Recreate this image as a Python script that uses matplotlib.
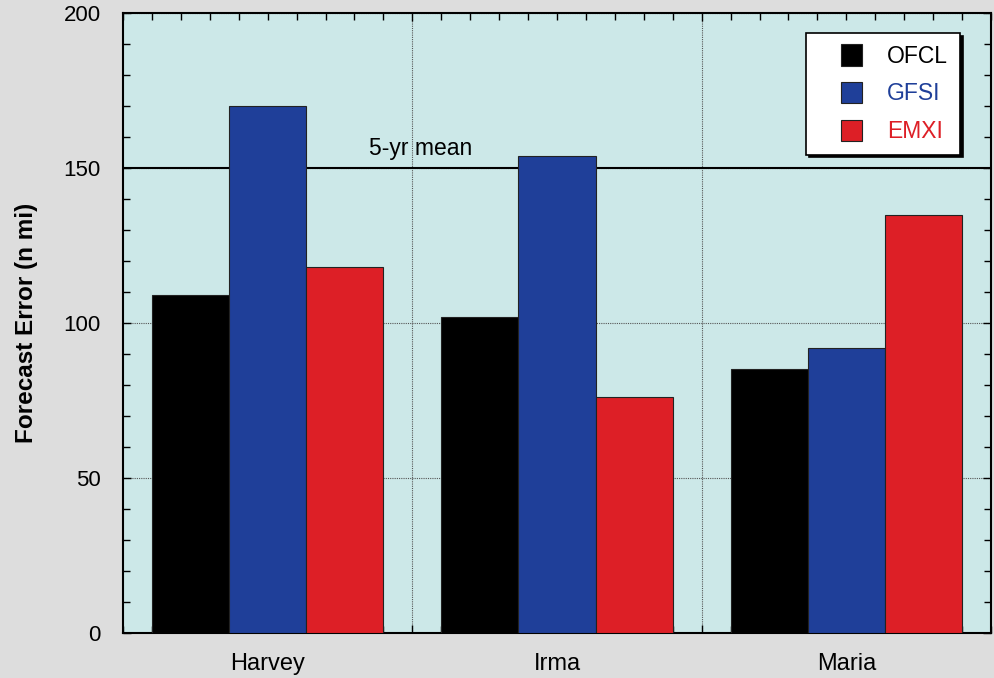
import matplotlib
matplotlib.use("Agg")
import matplotlib.pyplot as plt
import matplotlib.patches as mpatches
from matplotlib.legend_handler import HandlerPatch
import numpy as np
from matplotlib.ticker import MultipleLocator, FixedLocator

plt.rcParams['font.family'] = ['Liberation Sans', 'DejaVu Sans']

storms = ["Harvey", "Irma", "Maria"]
models = ["OFCL", "GFSI", "EMXI"]
ofcl = [109, 102, 85]
gfsi = [170, 154, 92]
emxi = [118, 76, 135]
five_yr_mean = 150
colors = ["#000000", "#1f3f99", "#dd1f26"]

fig = plt.figure(figsize=(9.94, 6.78), dpi=100, facecolor="#dddddd")
ax = fig.add_axes([0.1237, 0.0664, 0.997 - 0.1237, 0.9808 - 0.0664])
ax.set_facecolor("#cce8e8")

x = np.arange(len(storms))
width = 0.8 / 3
for i, (vals, c, name) in enumerate(zip([ofcl, gfsi, emxi], colors, models)):
    ax.bar(x + (i - 1) * width, vals, width=width, color=c, edgecolor="#222222",
           linewidth=0.8, label=name, zorder=3)

ax.set_xlim(-0.5, 2.5)
ax.set_ylim(0, 200)

# grid lines: dotted at category boundaries and every 50
ax.xaxis.set_major_locator(FixedLocator([0.5, 1.5]))
ax.xaxis.set_minor_locator(MultipleLocator(0.1))
ax.yaxis.set_major_locator(MultipleLocator(50))
ax.yaxis.set_minor_locator(MultipleLocator(10))
ax.grid(True, which="major", color="#555555", linestyle=(0, (1, 1)), linewidth=0.8, zorder=1)
ax.set_xticklabels([])
ax.tick_params(axis="both", which="both", direction="in", top=True, right=True,
               color="black")
ax.tick_params(axis="both", which="major", length=6, width=1)
ax.tick_params(axis="both", which="minor", length=5, width=1)
ax.tick_params(axis="y", which="major", labelsize=16, pad=16)
for s in ax.spines.values():
    s.set_linewidth(1.5)

for xi, name in zip(x, storms):
    ax.text(xi, -0.033, name, transform=ax.get_xaxis_transform(), ha="center",
            va="top", fontsize=17)

ax.set_ylabel("Forecast Error (n mi)", fontsize=17.5, fontweight="bold", labelpad=18)

# 5-year mean reference line
ax.axhline(five_yr_mean, color="black", linewidth=1.5, zorder=2)
ax.text(0.53, five_yr_mean + 2.5, "5-yr mean", ha="center", va="bottom",
        fontsize=16.5, zorder=4)


def square_right(legend, orig_handle, xdescent, ydescent, width, height, fontsize):
    side = height
    return mpatches.Rectangle((width - side - xdescent, -ydescent), side, side)


# legend keys: square swatches sitting at the right of each handle box
proxies = [mpatches.Patch(facecolor=c, edgecolor="#222222", linewidth=0.8) for c in colors]
leg = ax.legend(proxies, models, loc="upper right", bbox_to_anchor=(0.964, 0.968),
                fontsize=16.5, frameon=True, fancybox=False,
                shadow={'color': 'black', 'alpha': 1},
                edgecolor="black", facecolor="white", framealpha=1,
                handlelength=1.95, handleheight=1.05, handletextpad=1.1,
                borderpad=0.5, labelspacing=0.62, borderaxespad=0,
                handler_map={mpatches.Patch: HandlerPatch(patch_func=square_right)})
leg.get_frame().set_linewidth(1.2)
for t, c in zip(leg.get_texts(), colors):
    t.set_color(c)
leg.set_zorder(5)

fig.savefig("out.png", dpi=100, facecolor=fig.get_facecolor())
